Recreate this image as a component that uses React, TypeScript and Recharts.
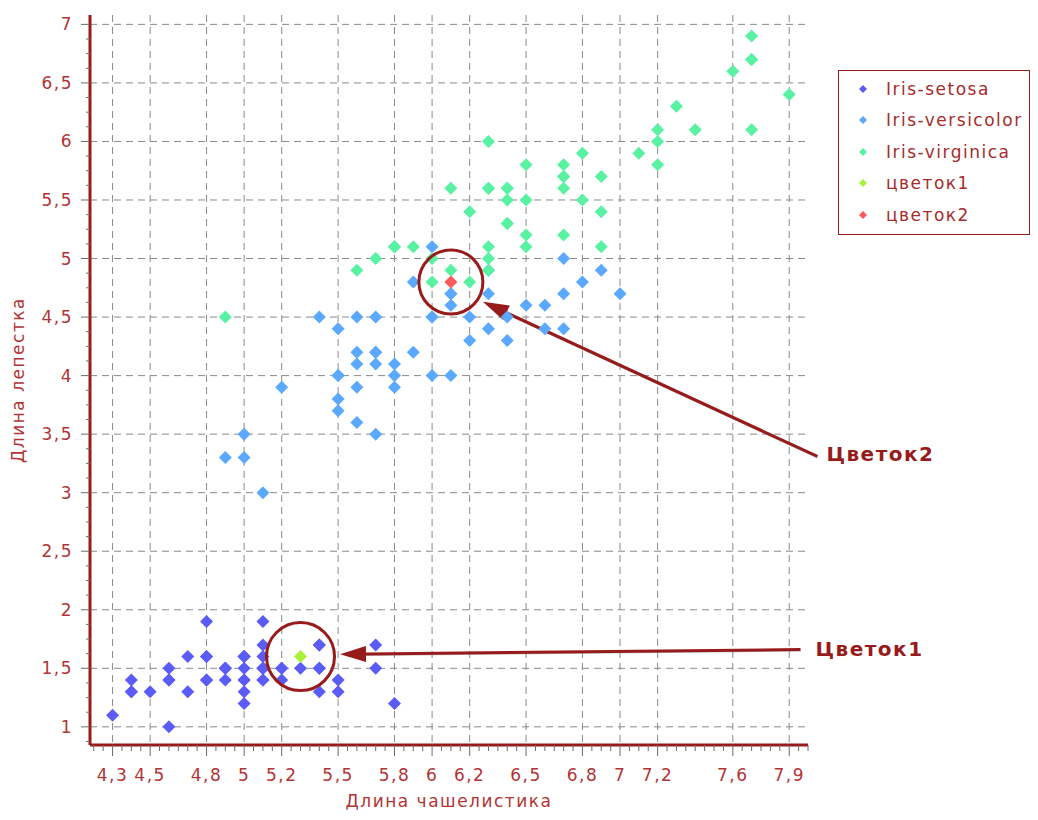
import React from "react";
import {
  CartesianGrid,
  Legend,
  ReferenceDot,
  ReferenceLine,
  Scatter,
  ScatterChart,
  XAxis,
  YAxis,
} from "recharts";

// [длина чашелистика, длина лепестка]
const SETOSA: [number, number][] = [
  [5.1, 1.4], [4.9, 1.4], [4.7, 1.3], [4.6, 1.5], [5.0, 1.4], [5.4, 1.7], [4.6, 1.4], [5.0, 1.5], [4.4, 1.4], [4.9, 1.5],
  [5.4, 1.5], [4.8, 1.6], [4.8, 1.4], [4.3, 1.1], [5.8, 1.2], [5.7, 1.5], [5.4, 1.3], [5.1, 1.4], [5.7, 1.7], [5.1, 1.5],
  [5.4, 1.7], [5.1, 1.5], [4.6, 1.0], [5.1, 1.7], [4.8, 1.9], [5.0, 1.6], [5.0, 1.6], [5.2, 1.5], [5.2, 1.4], [4.7, 1.6],
  [4.8, 1.6], [5.4, 1.5], [5.2, 1.5], [5.5, 1.4], [4.9, 1.5], [5.0, 1.2], [5.5, 1.3], [4.9, 1.5], [4.4, 1.3], [5.1, 1.5],
  [5.0, 1.3], [4.5, 1.3], [4.4, 1.3], [5.0, 1.6], [5.1, 1.9], [4.8, 1.4], [5.1, 1.6], [4.6, 1.4], [5.3, 1.5], [5.0, 1.4],
];

const VERSICOLOR: [number, number][] = [
  [7.0, 4.7], [6.4, 4.5], [6.9, 4.9], [5.5, 4.0], [6.5, 4.6], [5.7, 4.5], [6.3, 4.7], [4.9, 3.3], [6.6, 4.6], [5.2, 3.9],
  [5.0, 3.5], [5.9, 4.2], [6.0, 4.0], [6.1, 4.7], [5.6, 3.6], [6.7, 4.4], [5.6, 4.5], [5.8, 4.1], [6.2, 4.5], [5.6, 3.9],
  [5.9, 4.8], [6.1, 4.0], [6.3, 4.9], [6.1, 4.7], [6.4, 4.3], [6.6, 4.4], [6.8, 4.8], [6.7, 5.0], [6.0, 4.5], [5.7, 3.5],
  [5.5, 3.8], [5.5, 3.7], [5.8, 3.9], [6.0, 5.1], [5.4, 4.5], [6.0, 4.5], [6.7, 4.7], [6.3, 4.4], [5.6, 4.1], [5.5, 4.0],
  [5.5, 4.4], [6.1, 4.6], [5.8, 4.0], [5.0, 3.3], [5.6, 4.2], [5.7, 4.2], [5.7, 4.2], [6.2, 4.3], [5.1, 3.0], [5.7, 4.1],
];

const VIRGINICA: [number, number][] = [
  [6.3, 6.0], [5.8, 5.1], [7.1, 5.9], [6.3, 5.6], [6.5, 5.8], [7.6, 6.6], [4.9, 4.5], [7.3, 6.3], [6.7, 5.8], [7.2, 6.1],
  [6.5, 5.1], [6.4, 5.3], [6.8, 5.5], [5.7, 5.0], [5.8, 5.1], [6.4, 5.3], [6.5, 5.5], [7.7, 6.7], [7.7, 6.9], [6.0, 5.0],
  [6.9, 5.7], [5.6, 4.9], [7.7, 6.7], [6.3, 4.9], [6.7, 5.7], [7.2, 6.0], [6.2, 4.8], [6.1, 4.9], [6.4, 5.6], [7.2, 5.8],
  [7.4, 6.1], [7.9, 6.4], [6.4, 5.6], [6.3, 5.1], [6.1, 5.6], [7.7, 6.1], [6.3, 5.6], [6.4, 5.5], [6.0, 4.8], [6.9, 5.4],
  [6.7, 5.6], [6.9, 5.1], [5.8, 5.1], [6.8, 5.9], [6.7, 5.7], [6.7, 5.2], [6.3, 5.0], [6.5, 5.2], [6.2, 5.4], [5.9, 5.1],
];

const FLOWER1: [number, number][] = [[5.3, 1.6]];
const FLOWER2: [number, number][] = [[6.1, 4.8]];

const X_MAJOR = [4.3, 4.5, 4.8, 5, 5.2, 5.5, 5.8, 6, 6.2, 6.5, 6.8, 7, 7.2, 7.6, 7.9];
const Y_MAJOR = [1, 1.5, 2, 2.5, 3, 3.5, 4, 4.5, 5, 5.5, 6, 6.5, 7];

const X_DOMAIN: [number, number] = [4.18, 8.0];
const Y_DOMAIN: [number, number] = [0.845, 7.08];

// мелкие засечки на осях
const X_TICKS: number[] = [];
for (let i = 84; i <= 160; i++) X_TICKS.push(Math.round(i * 5) / 100);
const Y_TICKS: number[] = [];
for (let i = 7; i <= 56; i++) Y_TICKS.push(i * 0.125);

const RED = "#981b1b";
const TXT = "#b23434";
const FONT = "'DejaVu Sans', 'Liberation Sans', Arial, sans-serif";

const SERIES = [
  { name: "Iris-setosa", data: SETOSA, color: "#5b5cf6" },
  { name: "Iris-versicolor", data: VERSICOLOR, color: "#5aa9ff" },
  { name: "Iris-virginica", data: VIRGINICA, color: "#58f2a2" },
  { name: "цветок1", data: FLOWER1, color: "#a9f23c" },
  { name: "цветок2", data: FLOWER2, color: "#ff5a5a" },
];

const toPts = (arr: [number, number][]) => arr.map(([x, y]) => ({ x, y }));
const fmt = (v: number) => String(v).replace(".", ",");
const isMajor = (list: number[], v: number) => list.some((m) => Math.abs(m - v) < 1e-6);

function Diamond({ cx, cy, fill }: any) {
  if (cx == null || cy == null) return null;
  const r = 6.5;
  return <polygon points={`${cx},${cy - r} ${cx + r},${cy} ${cx},${cy + r} ${cx - r},${cy}`} fill={fill} />;
}

function XTick({ x, y, payload }: any) {
  const v = payload.value;
  const major = isMajor(X_MAJOR, v);
  return (
    <g>
      <line x1={x} x2={x} y1={y} y2={y + (major ? 11 : 6)} stroke="#6b6b6b" />
      {major && (
        <text x={x} y={y + 30} textAnchor="middle" dominantBaseline="central"
          fill={TXT} fontSize={17} fontFamily={FONT} letterSpacing={1.5}>
          {fmt(v)}
        </text>
      )}
    </g>
  );
}

function YTick({ x, y, payload }: any) {
  const v = payload.value;
  const major = isMajor(Y_MAJOR, v);
  return (
    <g>
      <line x1={x} x2={x - (major ? 9 : 4)} y1={y} y2={y} stroke="#6b6b6b" />
      {major && (
        <text x={x - 17} y={y} textAnchor="end" dominantBaseline="central"
          fill={TXT} fontSize={17} fontFamily={FONT} letterSpacing={1.5}>
          {fmt(v)}
        </text>
      )}
    </g>
  );
}

function Arrow({ x1, y1, x2, y2 }: any) {
  if ([x1, y1, x2, y2].some((n) => n == null)) return null;
  const a = Math.atan2(y2 - y1, x2 - x1);
  const L = 26;
  const W = 8;
  const bx = x2 - L * Math.cos(a);
  const by = y2 - L * Math.sin(a);
  const s = Math.sin(a);
  const c = Math.cos(a);
  return (
    <g>
      <line x1={x1} y1={y1 + 1} x2={bx} y2={by + 1} stroke="#999" strokeWidth={2} opacity={0.6} />
      <line x1={x1} y1={y1} x2={bx} y2={by} stroke={RED} strokeWidth={3} />
      <polygon points={`${x2},${y2} ${bx - W * s},${by + W * c} ${bx + W * s},${by - W * c}`} fill={RED} />
    </g>
  );
}

function LegendBox({ payload }: any) {
  return (
    <div
      style={{
        width: 192,
        height: 165,
        boxSizing: "border-box",
        border: `1px solid ${RED}`,
        background: "#fff",
        paddingTop: 2,
        fontFamily: FONT,
      }}
    >
      {(payload || []).map((p: any) => (
        <div key={p.value} style={{ height: 31.5, display: "flex", alignItems: "center" }}>
          <svg width={47} height={12} style={{ flex: "none" }}>
            <polygon points="24,2 28,6 24,10 20,6" fill={p.color} />
          </svg>
          <span style={{ color: "#a52c2c", fontSize: 17, letterSpacing: 1.5 }}>{p.value}</span>
        </div>
      ))}
    </div>
  );
}

export default function App() {
  return (
    <ScatterChart width={1022} height={804} margin={{ top: 7, right: 222, bottom: 0, left: 12 }}>
      <CartesianGrid
        stroke="#8a8a8a"
        strokeDasharray="7 5"
        horizontalValues={Y_MAJOR}
        verticalValues={X_MAJOR}
      />
      <XAxis
        type="number"
        dataKey="x"
        domain={X_DOMAIN}
        ticks={X_TICKS}
        interval={0}
        allowDataOverflow
        tick={<XTick />}
        tickLine={false}
        tickSize={0}
        tickMargin={0}
        height={67}
        axisLine={{ stroke: RED, strokeWidth: 3 }}
        label={{
          value: "Длина чашелистика",
          position: "insideBottom",
          offset: 5,
          fill: TXT,
          fontSize: 17,
          fontFamily: FONT,
          letterSpacing: 1.5,
        }}
      />
      <YAxis
        type="number"
        dataKey="y"
        domain={Y_DOMAIN}
        ticks={Y_TICKS}
        interval={0}
        allowDataOverflow
        tick={<YTick />}
        tickLine={false}
        tickSize={0}
        tickMargin={0}
        width={70}
        axisLine={{ stroke: RED, strokeWidth: 3 }}
        label={{
          value: "Длина лепестка",
          position: "insideLeft",
          angle: -90,
          offset: -2,
          fill: TXT,
          fontSize: 17,
          fontFamily: FONT,
          letterSpacing: 1.5,
          style: { textAnchor: "middle" },
        }}
      />
      {SERIES.map((s) => (
        <Scatter
          key={s.name}
          name={s.name}
          data={toPts(s.data)}
          fill={s.color}
          shape={<Diamond />}
          isAnimationActive={false}
        />
      ))}
      <ReferenceDot x={FLOWER1[0][0]} y={FLOWER1[0][1]} r={34} fill="none" stroke={RED} strokeWidth={3} ifOverflow="visible" />
      <ReferenceDot x={FLOWER2[0][0]} y={FLOWER2[0][1]} r={32} fill="none" stroke={RED} strokeWidth={3} ifOverflow="visible" />
      <ReferenceLine
        segment={[{ x: 8.05, y: 3.31 }, { x: 6.27, y: 4.63 }]}
        ifOverflow="visible"
        shape={(p: any) => <Arrow {...p} />}
      />
      <ReferenceLine
        segment={[{ x: 7.96, y: 1.66 }, { x: 5.51, y: 1.62 }]}
        ifOverflow="visible"
        shape={(p: any) => <Arrow {...p} />}
      />
      <ReferenceDot
        x={8.05}
        y={3.33}
        r={0}
        fill="none"
        stroke="none"
        ifOverflow="visible"
        label={{ value: "Цветок2", position: "right", offset: 9, fill: RED, fontSize: 20, fontWeight: 700, fontFamily: FONT, letterSpacing: 1.5 }}
      />
      <ReferenceDot
        x={7.96}
        y={1.67}
        r={0}
        fill="none"
        stroke="none"
        ifOverflow="visible"
        label={{ value: "Цветок1", position: "right", offset: 15, fill: RED, fontSize: 20, fontWeight: 700, fontFamily: FONT, letterSpacing: 1.5 }}
      />
      <Legend
        layout="vertical"
        align="center"
        verticalAlign="middle"
        content={<LegendBox />}
        wrapperStyle={{ position: "absolute", left: 830, top: 62, width: 192, height: 165 }}
      />
    </ScatterChart>
  );
}
